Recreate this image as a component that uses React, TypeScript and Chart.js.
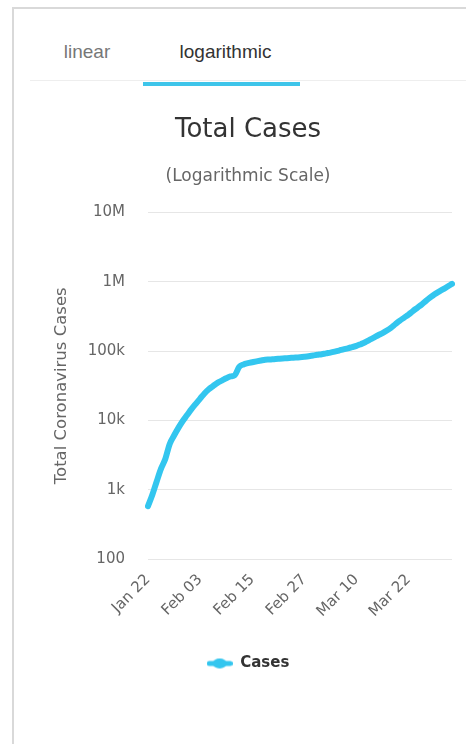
import React, { useEffect, useRef } from "react";
import { Chart, registerables } from "chart.js";

Chart.register(...registerables);

const tabLabels = ["linear", "logarithmic"];
const chartTitle = "Total Cases";
const chartSubtitle = "(Logarithmic Scale)";
const yAxisTitle = "Total Coronavirus Cases";
const seriesName = "Cases";

const dates = [
  "Jan 22", "Jan 23", "Jan 24", "Jan 25", "Jan 26", "Jan 27", "Jan 28", "Jan 29", "Jan 30", "Jan 31",
  "Feb 01", "Feb 02", "Feb 03", "Feb 04", "Feb 05", "Feb 06", "Feb 07", "Feb 08", "Feb 09", "Feb 10",
  "Feb 11", "Feb 12", "Feb 13", "Feb 14", "Feb 15", "Feb 16", "Feb 17", "Feb 18", "Feb 19", "Feb 20",
  "Feb 21", "Feb 22", "Feb 23", "Feb 24", "Feb 25", "Feb 26", "Feb 27", "Feb 28", "Feb 29", "Mar 01",
  "Mar 02", "Mar 03", "Mar 04", "Mar 05", "Mar 06", "Mar 07", "Mar 08", "Mar 09", "Mar 10", "Mar 11",
  "Mar 12", "Mar 13", "Mar 14", "Mar 15", "Mar 16", "Mar 17", "Mar 18", "Mar 19", "Mar 20", "Mar 21",
  "Mar 22", "Mar 23", "Mar 24", "Mar 25", "Mar 26", "Mar 27", "Mar 28", "Mar 29", "Mar 30", "Mar 31",
  "Apr 01",
];

const cases = [
  580, 845, 1317, 2015, 2800, 4581, 6058, 7813, 9823, 11950,
  14553, 17391, 20630, 24545, 28266, 31439, 34876, 37552, 40553, 43099,
  45134, 59287, 64438, 67100, 69197, 71329, 73332, 75184, 75700, 76677,
  77673, 78651, 79205, 80087, 80828, 81820, 83112, 84615, 86604, 88585,
  90443, 93016, 95314, 98425, 102050, 106099, 109991, 114381, 118948, 126214,
  134576, 145483, 156653, 169593, 182490, 198238, 218822, 246417, 275875, 305036,
  337459, 378830, 422574, 471035, 531865, 596366, 663127, 723390, 784716, 858371,
  935197,
];

const yTickValues = [100, 1000, 10000, 100000, 1000000, 10000000];
const yTickLabels = ["100", "1k", "10k", "100k", "1M", "10M"];
const xLabelEvery = 12;

const LINE_COLOR = "#33c6ef";
const FONT = "'DejaVu Sans', sans-serif";

function makeLegendSymbol(): HTMLCanvasElement {
  const c = document.createElement("canvas");
  c.width = 26;
  c.height = 12;
  const ctx = c.getContext("2d")!;
  ctx.strokeStyle = LINE_COLOR;
  ctx.fillStyle = LINE_COLOR;
  ctx.lineWidth = 5;
  ctx.lineCap = "round";
  ctx.beginPath();
  ctx.moveTo(2.5, 6);
  ctx.lineTo(23.5, 6);
  ctx.stroke();
  ctx.beginPath();
  ctx.ellipse(13, 6, 7, 5, 0, 0, Math.PI * 2);
  ctx.fill();
  return c;
}

function TotalCasesChart() {
  const ref = useRef<HTMLCanvasElement | null>(null);
  useEffect(() => {
    if (!ref.current) return;
    const chart = new Chart(ref.current, {
      type: "line",
      data: {
        labels: dates,
        datasets: [
          {
            label: seriesName,
            data: cases,
            borderColor: LINE_COLOR,
            backgroundColor: LINE_COLOR,
            borderWidth: 6,
            borderCapStyle: "round",
            borderJoinStyle: "round",
            pointRadius: 0,
            pointHoverRadius: 0,
            tension: 0.4,
            cubicInterpolationMode: "monotone",
            fill: false,
          },
        ],
      },
      options: {
        animation: false,
        responsive: true,
        maintainAspectRatio: false,
        layout: { padding: { left: 14, right: 14, top: 0, bottom: 35 } },
        plugins: {
          title: {
            display: true,
            text: chartTitle,
            color: "#333333",
            font: { family: FONT, size: 26, weight: "normal" },
            padding: { top: 19, bottom: 8 },
          },
          subtitle: {
            display: true,
            text: chartSubtitle,
            color: "#666666",
            font: { family: FONT, size: 17, weight: "normal" },
            padding: { top: 12, bottom: 26 },
          },
          legend: {
            display: true,
            position: "bottom",
            labels: {
              usePointStyle: true,
              pointStyle: makeLegendSymbol(),
              pointStyleWidth: 26,
              color: "#333333",
              font: { family: FONT, size: 15, weight: "bold" },
              padding: 10,
            },
          },
          tooltip: { enabled: false },
        },
        scales: {
          x: {
            type: "category",
            grid: { display: false, drawTicks: false },
            border: { display: false },
            ticks: {
              autoSkip: false,
              minRotation: 45,
              maxRotation: 45,
              padding: 12,
              color: "#666666",
              font: { family: FONT, size: 15 },
              callback: (_v: any, i: number) => (i % xLabelEvery === 0 ? dates[i] : null),
            },
            afterFit: (s: any) => {
              s.height = 87;
            },
          },
          y: {
            type: "logarithmic",
            min: yTickValues[0],
            max: yTickValues[yTickValues.length - 1],
            grid: { color: "#e6e6e6", lineWidth: 1, drawTicks: false },
            border: { display: false },
            afterBuildTicks: (s: any) => {
              s.ticks = yTickValues.map((v) => ({ value: v }));
            },
            ticks: {
              padding: 23,
              color: "#666666",
              font: { family: FONT, size: 15 },
              callback: (v: any) => {
                const i = yTickValues.indexOf(Number(v));
                return i >= 0 ? yTickLabels[i] : null;
              },
            },
            title: {
              display: true,
              text: yAxisTitle,
              color: "#666666",
              font: { family: FONT, size: 16.5 },
              padding: { top: 8, bottom: 0 },
            },
            afterFit: (s: any) => {
              s.width = 104;
            },
          },
        },
      },
    });
    return () => chart.destroy();
  }, []);
  return <canvas ref={ref} />;
}

export default function App() {
  return (
    <div
      style={{
        position: "fixed",
        left: 0,
        top: 0,
        width: 466,
        height: 744,
        overflow: "hidden",
        background: "#ffffff",
      }}
    >
      <div
        style={{
          position: "absolute",
          left: 12,
          top: 7,
          width: 470,
          height: 800,
          borderTop: "2px solid #d9d9d9",
          borderLeft: "2px solid #d9d9d9",
          boxSizing: "border-box",
        }}
      />
      <div
        style={{
          position: "absolute",
          left: 30,
          top: 80,
          width: 436,
          height: 1,
          background: "#eeeeee",
        }}
      />
      <div
        style={{
          position: "absolute",
          left: 40,
          width: 94,
          top: 40,
          textAlign: "center",
          fontFamily: "'Liberation Sans', Arial, sans-serif",
          fontSize: 19,
          lineHeight: "24px",
          color: "#777777",
        }}
      >
        {tabLabels[0]}
      </div>
      <div
        style={{
          position: "absolute",
          left: 147,
          width: 157,
          top: 40,
          textAlign: "center",
          fontFamily: "'Liberation Sans', Arial, sans-serif",
          fontSize: 19,
          lineHeight: "24px",
          color: "#333333",
        }}
      >
        {tabLabels[1]}
      </div>
      <div
        style={{
          position: "absolute",
          left: 143,
          top: 82,
          width: 157,
          height: 4,
          background: "#3ec5ea",
        }}
      />
      <div style={{ position: "absolute", left: 30, top: 96, width: 436, height: 620 }}>
        <TotalCasesChart />
      </div>
    </div>
  );
}
